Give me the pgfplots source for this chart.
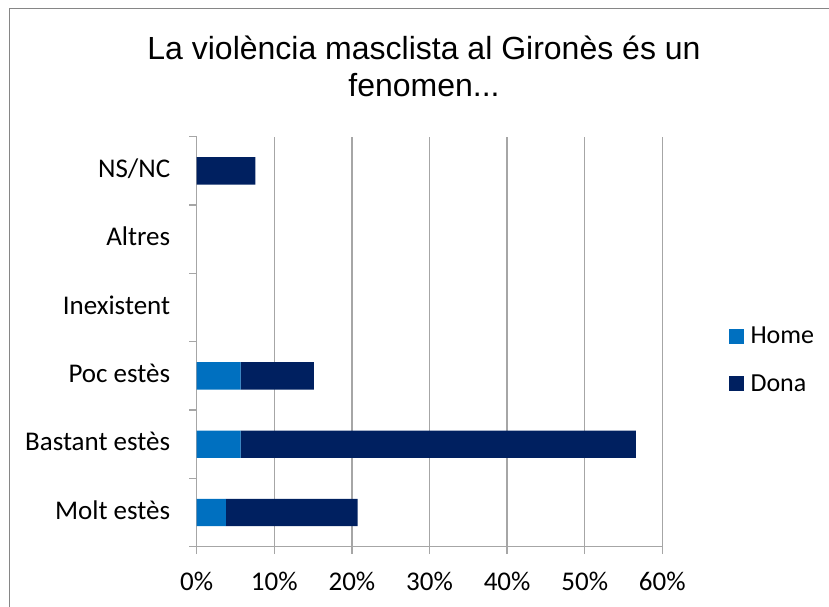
\documentclass[border=0pt]{standalone}
\usepackage{fontspec}
\setmainfont{Carlito}
\newfontfamily\titlefont{Liberation Sans}
\usepackage{pgfplots}
\pgfplotsset{compat=1.18}
\definecolor{home}{RGB}{0,112,192}
\definecolor{dona}{RGB}{0,32,96}
\definecolor{gridgray}{RGB}{166,166,166}
\definecolor{framegray}{RGB}{134,134,134}

% shares (%), categories bottom to top
\pgfplotstableread{
y home dona
0 3.77 16.98
1 5.66 50.94
2 5.66 9.43
3 0 0
4 0 0
5 0 7.55
}\datatable

\begin{document}
\begin{tikzpicture}[x=1bp,y=1bp]
\path[use as bounding box] (0,0) rectangle (829,607);
\draw[framegray, line width=1.2bp] (9.5,0) -- (9.5,598.7) -- (829,598.7);
\node[font=\titlefont\fontsize{32bp}{37bp}\selectfont, align=center, anchor=base]
  at (424,510) {La violència masclista al Gironès és un\\fenomen...};
\begin{axis}[
  at={(196.7bp,60.3bp)}, anchor=south west,
  scale only axis, width=465.6bp, height=410bp,
  xbar stacked, bar width=27.3bp,
  xmin=0, xmax=60, ymin=-0.5, ymax=5.5,
  axis lines*=left,
  axis line style={gridgray, line width=1.3bp},
  xtick={0,10,...,60},
  xticklabel={\pgfmathprintnumber{\tick}\%},
  grid=major, ymajorgrids=false,
  major grid style={gridgray, line width=1.3bp},
  % tick marks at the category boundaries, names at the centres
  ytick={-0.5,0.5,1.5,2.5,3.5,4.5,5.5},
  yticklabels={},
  extra y ticks={0,...,5},
  extra y tick labels={Molt estès,Bastant estès,Poc estès,Inexistent,Altres,NS/NC},
  extra y tick style={major tick length=0pt, grid=none},
  tick style={gridgray, line width=1.3bp},
  major tick length=7.5bp, tick align=outside,
  tick label style={font=\fontsize{27bp}{32bp}\selectfont},
  /pgf/number format/assume math mode=true,
  xticklabel style={anchor=base, yshift=-36.5bp},
  yticklabel style={anchor=base east, xshift=-23bp, yshift=-6.5bp},
  legend style={draw=none, fill=none, inner sep=0pt,
    at={(axis description cs:1.1418,0.4556)}, anchor=west,
    font=\fontsize{26bp}{31bp}\selectfont, row sep=25bp, column sep=5bp,
    legend cell align=left},
  legend image code/.code={\fill[#1] (0bp,-7.5bp) rectangle (15bp,7.5bp);},
]
\addplot[fill=home, draw=none] table[x=home, y=y] {\datatable};
\addlegendentry{Home}
\addplot[fill=dona, draw=none] table[x=dona, y=y] {\datatable};
\addlegendentry{Dona}
\end{axis}
\end{tikzpicture}
\end{document}
